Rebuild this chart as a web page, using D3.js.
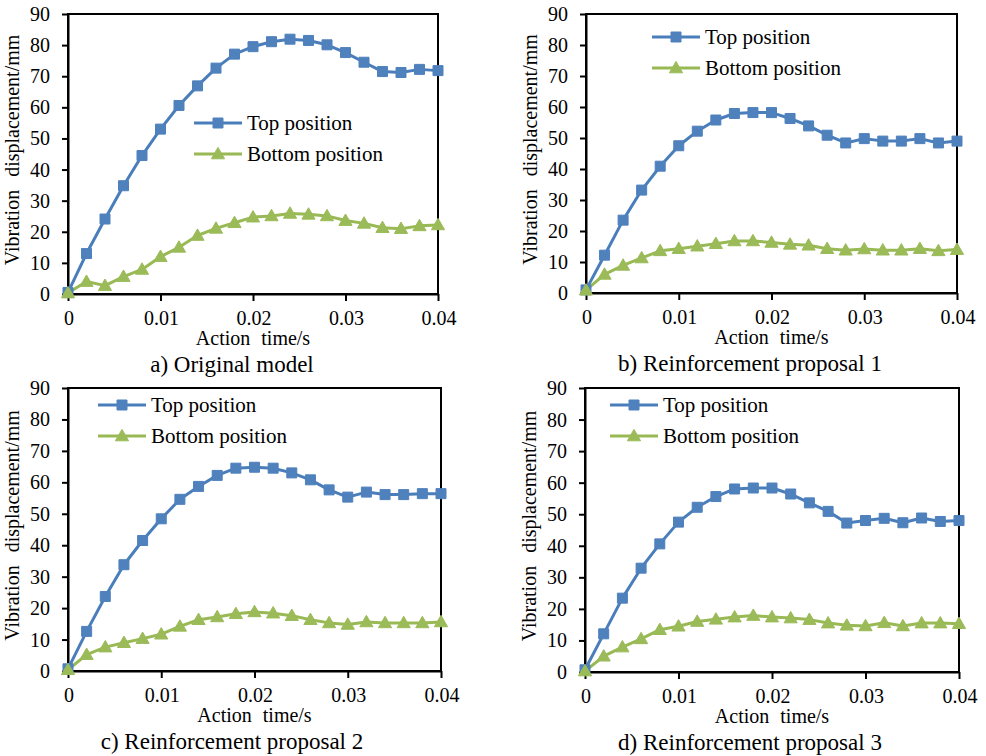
<!DOCTYPE html>
<html><head><meta charset="utf-8">
<script src="https://cdn.jsdelivr.net/npm/d3@7/dist/d3.min.js"></script>
</head><body style="margin:0;font-family:'Liberation Serif','Tinos','Times New Roman',serif">
<svg id="chart" width="986" height="756" font-family="Liberation Serif, Tinos, Times New Roman, serif"></svg>
<script>
// ---- data ----
const times = [0,0.002,0.004,0.006,0.008,0.010,0.012,0.014,0.016,0.018,0.020,0.022,0.024,0.026,0.028,0.030,0.032,0.034,0.036,0.038,0.040];
const yTicks = [0,10,20,30,40,50,60,70,80,90];
const xTicks = [0,0.01,0.02,0.03,0.04];
const xTickLabels = ["0","0.01","0.02","0.03","0.04"];
const seriesNames = ["Top position","Bottom position"];
const captions = ["a) Original model","b) Reinforcement proposal 1","c) Reinforcement proposal 2","d) Reinforcement proposal 3"];
const xTitle = "Action time/s";
const yTitle = "Vibration displacement/mm";

const topA    = [0.5,13.0,24.1,34.8,44.5,53.0,60.6,66.9,72.6,77.1,79.5,81.1,81.9,81.5,80.1,77.6,74.5,71.5,71.2,72.2,71.8];
const bottomA = [0.3,4.0,2.7,5.6,7.9,12.0,15.0,18.8,21.1,22.9,24.7,25.1,25.9,25.6,25.1,23.6,22.7,21.3,21.0,21.9,22.2];
const topB    = [1.0,12.2,23.5,33.2,40.9,47.5,52.2,55.8,57.9,58.2,58.2,56.3,53.9,50.9,48.4,49.8,49.0,49.0,49.8,48.4,49.0];
const bottomB = [0.9,6.0,8.9,11.3,13.6,14.3,15.1,15.9,16.8,16.8,16.3,15.7,15.4,14.3,13.8,14.2,13.8,13.8,14.3,13.6,14.0];
const topC    = [0.7,12.6,23.7,33.8,41.5,48.4,54.6,58.7,62.2,64.5,64.8,64.5,63.0,60.8,57.6,55.3,56.9,56.1,56.1,56.4,56.4];
const bottomC = [0.4,5.2,7.6,9.0,10.3,11.7,14.2,16.3,17.2,18.2,18.8,18.4,17.6,16.3,15.3,14.8,15.6,15.3,15.3,15.3,15.6];
const topD    = [0.7,12.1,23.4,32.9,40.6,47.5,52.2,55.6,58.0,58.3,58.3,56.4,53.6,50.9,47.2,48.0,48.7,47.3,48.8,47.7,48.0];
const bottomD = [0.3,5.0,7.9,10.5,13.4,14.5,16.0,16.7,17.4,17.9,17.4,17.1,16.6,15.5,14.8,14.6,15.6,14.6,15.5,15.5,15.3];

// ---- layout / style ----
const panels = [
  {top: topA, bottom: bottomA, caption: captions[0], L: 68,  R: 438, T: 14,  B: 294, capX: 232, legX: 194, legY: 123},
  {top: topB, bottom: bottomB, caption: captions[1], L: 586, R: 957, T: 14,  B: 293, capX: 750, legX: 652, legY: 37},
  {top: topC, bottom: bottomC, caption: captions[2], L: 68,  R: 441, T: 388, B: 671, capX: 232, legX: 98,  legY: 405},
  {top: topD, bottom: bottomD, caption: captions[3], L: 585, R: 959, T: 388, B: 672, capX: 750, legX: 610, legY: 405}
];
const FONT = "'Liberation Serif','Tinos','Times New Roman',serif";
const blue = "#4a7ebb", blueFill = "#4f81bd";
const green = "#98b954", greenFill = "#9bbb59";

const svg = d3.select("#chart").style("font-family", FONT);
const sqr = d3.symbol().type(d3.symbolSquare).size(100);
const tri = d3.symbol().type(d3.symbolTriangle).size(75);

function addText(size) {
  return svg.append("text").style("font-family", FONT).style("font-size", size + "px").attr("fill", "#000");
}

panels.forEach(p => {
  const x = d3.scaleLinear().domain([0, 0.04]).range([p.L, p.R]);
  const y = d3.scaleLinear().domain([0, 90]).range([p.B, p.T]);
  const g = svg.append("g");

  // plot frame
  g.append("rect").attr("x", p.L).attr("y", p.T).attr("width", p.R - p.L).attr("height", p.B - p.T)
    .attr("fill", "none").attr("stroke", "#000").attr("stroke-width", 2);

  // axes: tick marks from d3 axes, labels as plain text
  const ya = g.append("g").attr("transform", `translate(${p.L},0)`)
    .call(d3.axisLeft(y).tickValues(yTicks).tickSize(6).tickSizeOuter(0).tickFormat(""));
  const xa = g.append("g").attr("transform", `translate(0,${p.B})`)
    .call(d3.axisBottom(x).tickValues(xTicks).tickSize(7).tickSizeOuter(0).tickFormat(""));
  [ya, xa].forEach(a => {
    a.select(".domain").attr("stroke", "#000").attr("stroke-width", 2);
    a.selectAll(".tick line").attr("stroke", "#000").attr("stroke-width", 2);
    a.selectAll(".tick text").remove();
  });
  yTicks.forEach(v => {
    addText(20).attr("x", p.L - 18).attr("y", y(v) + 7).attr("text-anchor", "end").text(String(v));
  });
  xTicks.forEach((v, i) => {
    addText(20).attr("x", x(v) + 1).attr("y", p.B + 31).attr("text-anchor", "middle").text(xTickLabels[i]);
  });

  // titles
  addText(20).attr("x", (p.L + p.R) / 2).attr("y", p.B + 51).attr("text-anchor", "middle")
    .style("word-spacing", "6px").text(xTitle);
  addText(20).attr("transform", `translate(${p.L - 49},${(p.T + p.B) / 2 - 4}) rotate(-90)`)
    .attr("text-anchor", "middle").style("word-spacing", "8px").text(yTitle);
  addText(23).attr("x", p.capX).attr("y", p.B + 78).attr("text-anchor", "middle").text(p.caption);

  // series
  const line = d3.line().x((d, i) => x(times[i])).y(d => y(d));
  const series = [
    {vals: p.top, stroke: blue, fill: blueFill, sym: sqr},
    {vals: p.bottom, stroke: green, fill: greenFill, sym: tri}
  ];
  series.forEach(s => {
    g.append("path").datum(s.vals).attr("d", line).attr("fill", "none")
      .attr("stroke", s.stroke).attr("stroke-width", 3).attr("stroke-linejoin", "round");
  });
  series.forEach(s => {
    g.selectAll(null).data(s.vals).enter().append("path")
      .attr("d", s.sym)
      .attr("transform", (d, i) => `translate(${x(times[i])},${y(d) + (s.sym === tri ? 1 : 0)})`)
      .attr("fill", s.fill).attr("stroke", s.fill).attr("stroke-width", 1);
  });

  // legend
  series.forEach((s, k) => {
    const ly = p.legY + k * 31;
    g.append("line").attr("x1", p.legX).attr("x2", p.legX + 48).attr("y1", ly).attr("y2", ly)
      .attr("stroke", s.stroke).attr("stroke-width", 3);
    g.append("path").attr("d", s.sym).attr("transform", `translate(${p.legX + 24},${ly + (s.sym === tri ? 1 : 0)})`)
      .attr("fill", s.fill).attr("stroke", s.fill);
    addText(21).attr("x", p.legX + 53).attr("y", ly + 7).text(seriesNames[k]);
  });
});
</script>
</body></html>
